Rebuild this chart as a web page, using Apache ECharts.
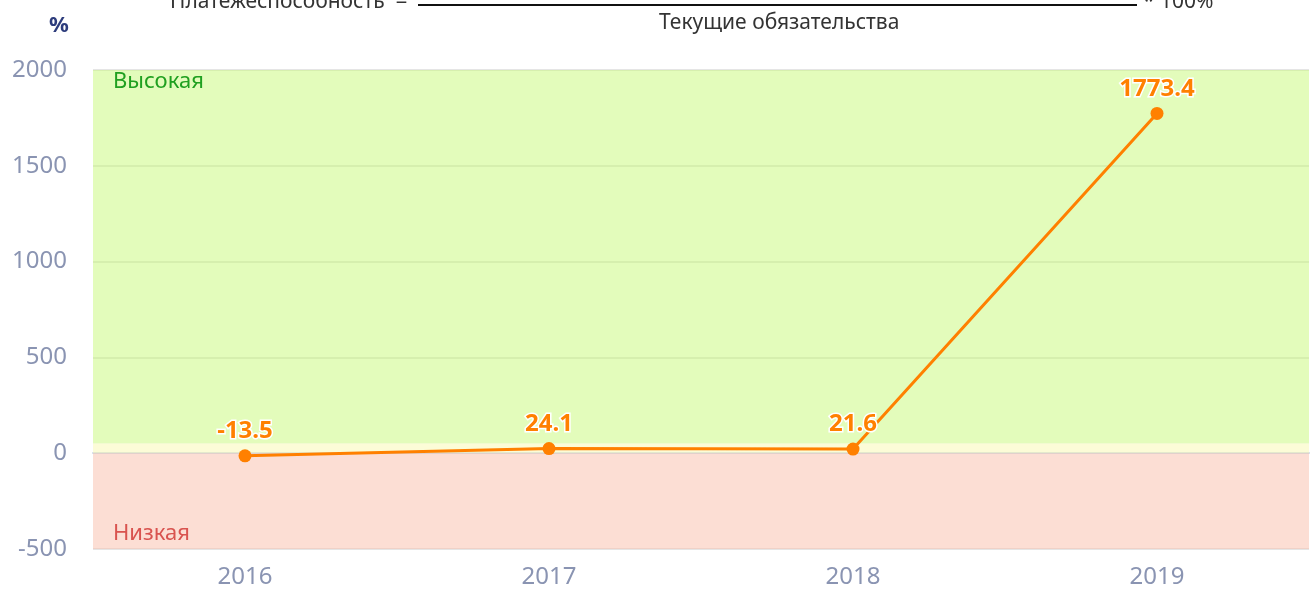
<!DOCTYPE html>
<html lang="ru">
<head>
    <meta charset="UTF-8">
    <title>Платежеспособность</title>
    <script src="https://cdn.jsdelivr.net/npm/echarts@6/dist/echarts.min.js"></script>
    <style>
        html, body { margin: 0; padding: 0; background: #fff; }
    </style>
</head>
<body>
    <div id="main" style="width: 1310px; height: 593px;"></div>
    <script type="text/javascript">
        // data
        const years = ['2016', '2017', '2018', '2019'];
        const solvency = [-13.5, 24.1, 21.6, 1773.4];
        const yTicks = [-500, 0, 500, 1000, 1500, 2000];
        // zone limits: low below 0, thin neutral strip, high above
        const zoneLow = [-500, 0];
        const zoneMid = [0, 50];
        const zoneHigh = [50, 2000];

        const axisColor = '#8a94b2';
        const font = '"Noto Sans", sans-serif';

        let myChart = echarts.init(document.getElementById('main'));

        let options = {
            animation: false,
            textStyle: { fontFamily: font },
            grid: { left: 93, right: 1, top: 70, bottom: 44 },
            graphic: [
                { type: 'text', left: 49, top: 15,
                  style: { text: '%', fontSize: 22, fontWeight: 'bold', fill: '#2d3c7c', fontFamily: font } },
                { type: 'text', x: 170, y: -8,
                  style: { text: 'Платежеспособность  =', fontSize: 21, fill: '#333', fontFamily: font } },
                { type: 'line', shape: { x1: 418, y1: 5, x2: 1137, y2: 5 },
                  style: { stroke: '#111', lineWidth: 2 } },
                { type: 'text', x: 1143, y: -8,
                  style: { text: '* 100%', fontSize: 21, fill: '#333', fontFamily: font } },
                { type: 'text', x: 659, y: 13,
                  style: { text: 'Текущие обязательства', fontSize: 21, fill: '#333', fontFamily: font } }
            ],
            xAxis: {
                type: 'category',
                data: years,
                boundaryGap: true,
                axisLine: { lineStyle: { color: '#cfd8ea', width: 2 } },
                axisTick: { show: false },
                axisLabel: { color: axisColor, fontSize: 24, margin: 16 }
            },
            yAxis: {
                type: 'value',
                min: yTicks[0],
                max: yTicks[yTicks.length - 1],
                interval: 500,
                axisLine: { show: false },
                axisTick: { show: false },
                axisLabel: { color: axisColor, fontSize: 24, margin: 26, formatter: v => String(v) },
                splitLine: { lineStyle: { color: '#dcdcdc', width: 1.5 } }
            },
            series: [{
                name: 'Платежеспособность',
                type: 'line',
                data: solvency,
                symbol: 'circle',
                symbolSize: 13,
                lineStyle: { color: '#ff8000', width: 3 },
                itemStyle: { color: '#ff8000' },
                label: {
                    show: true,
                    position: 'top',
                    distance: 6,
                    color: '#ff8000',
                    fontSize: 24,
                    fontWeight: 'bold',
                    textBorderColor: '#fff',
                    textBorderWidth: 3
                },
                markArea: {
                    silent: true,
                    data: [
                        [{ yAxis: zoneHigh[0], itemStyle: { color: 'rgba(200,250,120,0.5)' },
                           label: { show: true, position: 'insideTopLeft', formatter: 'Высокая',
                                    color: '#20a020', fontSize: 22, offset: [20, 1], distance: 0 } },
                         { yAxis: zoneHigh[1] }],
                        [{ yAxis: zoneMid[0], itemStyle: { color: 'rgba(250,250,175,0.5)' } },
                         { yAxis: zoneMid[1] }],
                        [{ yAxis: zoneLow[0], itemStyle: { color: 'rgba(250,190,170,0.5)' },
                           label: { show: true, position: 'insideBottomLeft', formatter: 'Низкая',
                                    color: '#d9534f', fontSize: 22, offset: [20, -4], distance: 0 } },
                         { yAxis: zoneLow[1] }]
                    ]
                }
            }]
        };

        myChart.setOption(options);
    </script>
</body>
</html>
